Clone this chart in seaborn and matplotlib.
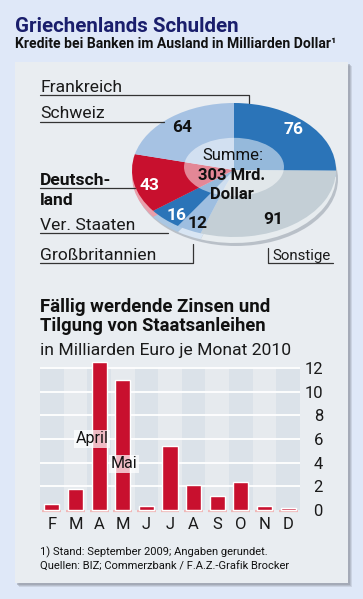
import numpy as np
import pandas as pd
import matplotlib
matplotlib.use("Agg")
import matplotlib.pyplot as plt
from matplotlib.patches import Rectangle, Ellipse
import seaborn as sns

# ---------------- data ----------------
pie_labels = ["Frankreich", "Sonstige", "Großbritannien", "Ver. Staaten", "Deutschland", "Schweiz"]
pie_values = [76, 91, 12, 16, 43, 64]
pie_colors = ["#2b74b8", "#c4cfd6", "#9ebee0", "#2b74b8", "#c8102e", "#a6c2e3"]
pie_total_text = ["Summe:", "303 Mrd.", "Dollar"]

months = ["F", "M", "A", "M", "J", "J", "A", "S", "O", "N", "D"]
month_values = [0.5, 1.75, 12.5, 11.0, 0.3, 5.4, 2.1, 1.2, 2.35, 0.3, 0.2]
yticks = [0, 2, 4, 6, 8, 10, 12]

W, H = 363, 599
sns.set_style("white")
plt.rcParams["font.family"] = ["Roboto", "DejaVu Sans"]

fig = plt.figure(figsize=(W / 100, H / 100), dpi=100)
fig.patch.set_facecolor("#dfe8f8")


def rect(x0, y0, x1, y1):
    return [x0 / W, 1 - y1 / H, (x1 - x0) / W, (y1 - y0) / H]


# background panel
bg = fig.add_axes([0, 0, 1, 1], zorder=0)
bg.set_xlim(0, W)
bg.set_ylim(H, 0)
bg.axis("off")
for off, a in [(4, 0.25), (3, 0.35), (2, 0.5)]:
    bg.add_patch(Rectangle((15 + off, 62 + off), 333, 521, fc="#9298a4", alpha=a, lw=0))
bg.add_patch(Rectangle((15, 62), 333, 521, fc="#e9edf1", lw=0))


def lighten(c, f):
    r = np.array(matplotlib.colors.to_rgb(c))
    return tuple(r + (1 - r) * f)


# pie rim (3D side)
ax_sh = fig.add_axes(rect(134, 112, 338, 246), zorder=1)
ax_sh.add_patch(Ellipse((0, 0), 2, 2, fc="#9aa3ae", alpha=0.6, lw=0))
ax_sh.set_xlim(-1, 1); ax_sh.set_ylim(-1, 1); ax_sh.axis("off")

ax_rim = fig.add_axes(rect(132, 109, 336, 243), zorder=2)
ax_rim.pie(pie_values, colors=[lighten(c, 0.6) for c in pie_colors], startangle=90,
           counterclock=False, wedgeprops=dict(linewidth=0))
ax_rim.set_aspect("auto"); ax_rim.set_xlim(-1, 1); ax_rim.set_ylim(-1, 1)

ax_pie = fig.add_axes(rect(132, 103, 336, 237), zorder=3)
ax_pie.pie(pie_values, colors=pie_colors, startangle=90, counterclock=False,
           wedgeprops=dict(linewidth=0))
ax_pie.set_aspect("auto"); ax_pie.set_xlim(-1, 1); ax_pie.set_ylim(-1, 1)
ax_pie.add_patch(Ellipse((0, 0.045), 0.98, 0.87, fc="white", alpha=0.5, lw=0))

# bar chart
ax_bar = fig.add_axes(rect(40, 367, 300, 510), zorder=3)
df = pd.DataFrame({"idx": list(range(len(months))), "val": month_values})
sns.barplot(data=df, x="idx", y="val", color="#c8102e", width=0.64, saturation=1,
            ax=ax_bar, zorder=3)
for p in ax_bar.patches:
    p.set_clip_on(False)
for i in range(len(months)):
    ax_bar.axvspan(i - 0.5, i + 0.5, fc="#dbe2e9" if i % 2 == 0 else "#e6eaee", lw=0, zorder=0)
    ax_bar.hlines(-0.12, i - 0.4, i + 0.4, color="#f0b8b8", lw=1.6, zorder=1, clip_on=False)
for t in yticks[1:]:
    ax_bar.axhline(t, color="white", lw=1.3, zorder=1)
ax_bar.set_xlim(-0.5, len(months) - 0.5)
ax_bar.set_ylim(0, 12.1)
ax_bar.set_xlabel(""); ax_bar.set_ylabel("")
ax_bar.set_xticks(range(len(months)))
ax_bar.set_xticklabels(months, fontsize=12, color="#1a1a1a")
ax_bar.yaxis.tick_right()
ax_bar.set_yticks(yticks)
ax_bar.set_yticklabels([str(v) for v in yticks], fontsize=12, color="#1a1a1a")
for lab in ax_bar.get_yticklabels():
    lab.set_ha("right")
ax_bar.tick_params(axis="y", length=0, pad=16.5)
ax_bar.tick_params(axis="x", length=0, pad=5)
for s in ax_bar.spines.values():
    s.set_visible(False)
ax_bar.set_facecolor("none")

# overlay for texts and leader lines
ov = fig.add_axes([0, 0, 1, 1], zorder=10)
ov.set_xlim(0, W); ov.set_ylim(H, 0); ov.axis("off"); ov.patch.set_alpha(0)

ov.text(15, 32, "Griechenlands Schulden", fontsize=14.8, fontweight="bold", color="#1a1e6c", va="baseline")
ov.text(15, 48.5, "Kredite bei Banken im Ausland in Milliarden Dollar¹", fontsize=10.1, fontweight="bold",
        color="#111111", va="baseline")

lc = "#333333"
fs_lab = 12.6
ov.text(40, 92, pie_labels[0], fontsize=fs_lab, va="baseline", color="#1a1a1a")
ov.plot([40, 249, 249], [95, 95, 103], color=lc, lw=0.9)
ov.text(40, 118.5, pie_labels[5], fontsize=fs_lab, va="baseline", color="#1a1a1a")
ov.plot([40, 164], [121.7, 121.7], color=lc, lw=0.9)
ov.text(40, 185, "Deutsch-", fontsize=fs_lab, fontweight="bold", va="baseline", color="#111111")
ov.text(40, 205, "land", fontsize=fs_lab, fontweight="bold", va="baseline", color="#111111")
ov.plot([40, 135], [187.5, 187.5], color=lc, lw=0.9)
ov.text(40, 229.5, pie_labels[3], fontsize=fs_lab, va="baseline", color="#1a1a1a")
ov.plot([40, 168], [233.3, 233.3], color=lc, lw=0.9)
ov.text(40, 259.5, pie_labels[2], fontsize=fs_lab, va="baseline", color="#1a1a1a")
ov.plot([40, 193, 193], [262.7, 262.7, 244], color=lc, lw=0.9)
ov.text(272, 260, pie_labels[1], fontsize=10.8, va="baseline", color="#1a1a1a")
ov.plot([268, 268, 333], [248, 262.7, 262.7], color=lc, lw=0.9)

fs_num = 12.5
num_pos = {0: (293, 130, "white"), 1: (273, 220, "#111111"), 2: (198, 223.5, "#111111"),
           3: (177, 215, "white"), 4: (149, 185, "white"), 5: (182, 127, "#111111")}
for i, (x, y, c) in num_pos.items():
    ov.text(x, y, str(pie_values[i]), fontsize=fs_num, fontweight="bold", color=c,
            ha="center", va="center")
ov.text(233, 155, pie_total_text[0], fontsize=12, ha="center", va="center", color="#111111")
ov.text(232, 175, pie_total_text[1], fontsize=12, fontweight="bold", ha="center", va="center", color="#111111")
ov.text(232, 194.5, pie_total_text[2], fontsize=12, fontweight="bold", ha="center", va="center", color="#111111")

ov.text(40, 311.5, "Fällig werdende Zinsen und", fontsize=13.4, fontweight="bold", va="baseline", color="#111111")
ov.text(40, 331, "Tilgung von Staatsanleihen", fontsize=13.2, fontweight="bold", va="baseline", color="#111111")
ov.text(40, 355, "in Milliarden Euro je Monat 2010", fontsize=12.6, va="baseline", color="#1a1a1a")

box = dict(fc="white", ec="none", alpha=0.72, pad=1.2)
ov.text(92, 439, "April", fontsize=11.5, ha="center", va="center", color="#111111", bbox=box)
ov.text(124, 464, "Mai", fontsize=11.5, ha="center", va="center", color="#111111", bbox=box)

ov.text(40, 555, "1) Stand: September 2009; Angaben gerundet.", fontsize=8, va="baseline", color="#111111")
ov.text(40, 570, "Quellen: BIZ; Commerzbank / F.A.Z.-Grafik Brocker", fontsize=8, va="baseline", color="#111111")

fig.savefig("out.png", dpi=100, facecolor=fig.get_facecolor())
